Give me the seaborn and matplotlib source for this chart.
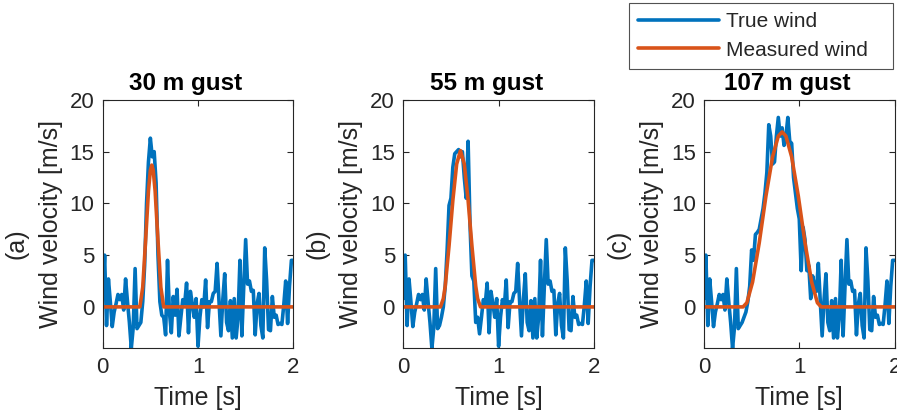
import numpy as np
import pandas as pd
import seaborn as sns
import matplotlib.pyplot as plt
from matplotlib.lines import Line2D

# time grid of the true wind signal (s)
time = np.round(np.arange(0, 2.001, 0.02), 2)

# true wind, 30 m gust panel (m/s)
true_30 = [
    0.8, 5.0, -1.8, 2.7, 0.5, -1.9, -0.5, 0.3, 1.2, 0.7,
    1.2, -0.3, 2.7, 0.5, -1.5, -4.0, -2.0, 3.7, -2.1, -1.8,
    -1.5, 0.5, 4.0, 10.0, 14.0, 16.3, 14.5, 15.0, 12.0, 5.0,
    0.5, -0.8, -1.0, -2.7, 4.5, -0.5, -2.5, 1.0, -0.8, 1.7,
    -2.8, -1.0, 0.7, 0.3, 2.3, -2.5, 1.5, 0.3, -1.0, 0.8,
    -3.8, -1.0, 0.7, 0.0, 2.6, -2.0, 0.5, 0.5, 1.3, 1.5,
    4.2, 0.6, -2.8, 0.7, 3.2, -1.5, -2.3, 0.6, -3.0, 0.8,
    -3.0, -1.0, 4.5, -2.8, 2.0, 6.5, 2.2, 2.5, 1.5, 1.6,
    -2.7, 0.3, 1.3, -1.8, -3.0, 5.7, 2.5, -2.2, -2.3, 1.0,
    -1.0, -0.8, -1.7, -1.6, -1.7, 0.2, 2.5, -1.6, 2.0, 4.5,
    4.5,
]

# the other panels share the same turbulence outside the gust window
gust_55 = [  # t = 0.38 .. 0.82
    -1.8, -1.0, 0.0, 2.0, 5.5, 9.8, 10.5, 13.5, 14.8, 15.0,
    15.2, 14.5, 15.0, 12.5, 10.5, 16.0, 8.0, 3.0, 2.5, -1.5,
    -1.0, -2.6, -1.0,
]
gust_107 = [  # t = 0.38 .. 1.18
    -1.8, -1.5, -1.0, -0.5, 0.5, 2.0, 5.5, 4.5, 7.0, 7.2,
    7.5, 8.5, 9.5, 11.0, 13.0, 17.6, 16.5, 13.8, 14.0, 16.5,
    18.3, 16.5, 17.3, 15.6, 16.5, 18.3, 16.0, 15.8, 12.5, 11.0,
    9.5, 8.5, 3.5, 7.7, 6.5, 3.5, 4.0, 0.8, 3.0, 2.0,
    1.5,
]
true_55 = true_30[:19] + gust_55 + true_30[19 + len(gust_55):]
true_107 = true_30[:19] + gust_107 + true_30[19 + len(gust_107):]

# measured wind (smooth gust), breakpoints
meas_t_30 = [0, 0.39, 0.42, 0.45, 0.48, 0.50, 0.515, 0.53, 0.55, 0.58, 0.61, 0.64, 2.0]
meas_30 = [0, 0, 1.9, 6.4, 11.2, 13.2, 13.7, 13.2, 11.2, 6.4, 1.9, 0, 0]
meas_t_55 = [0, 0.39, 0.42, 0.44, 0.48, 0.52, 0.56, 0.60, 0.64, 0.68, 0.72, 0.76, 0.78, 0.81, 2.0]
meas_55 = [0, 0, 0.8, 2.0, 5.9, 10.3, 13.8, 15.1, 13.8, 10.3, 5.9, 2.0, 0.8, 0, 0]
meas_t_107 = [0, 0.41, 0.45, 0.51, 0.58, 0.65, 0.72, 0.78, 0.82, 0.86, 0.92, 0.99, 1.06, 1.13, 1.19, 1.23, 2.0]
meas_107 = [0, 0, 0.4, 2.4, 6.2, 10.7, 14.5, 16.5, 16.9, 16.5, 14.5, 10.7, 6.2, 2.4, 0.4, 0, 0]

titles = ["30 m gust", "55 m gust", "107 m gust"]
tags = ["(a)", "(b)", "(c)"]
true_sets = [true_30, true_55, true_107]
meas_sets = [(meas_t_30, meas_30), (meas_t_55, meas_55), (meas_t_107, meas_107)]

blue = "#0072BD"
orange = "#D95319"
dark = "#262626"

sns.set_theme(style="ticks")
plt.rcParams['font.family'] = ['Liberation Sans', 'DejaVu Sans']

fig = plt.figure(figsize=(8.97, 4.12), dpi=100)
lefts = [0.1145, 0.4496, 0.7848]

for i in range(3):
    ax = fig.add_axes([lefts[i], 0.1546, 0.2125, 0.603])
    df_true = pd.DataFrame({"t": time, "v": true_sets[i]})
    df_meas = pd.DataFrame({"t": meas_sets[i][0], "v": meas_sets[i][1]})
    sns.lineplot(data=df_true, x="t", y="v", ax=ax, color=blue, linewidth=2.6)
    sns.lineplot(data=df_meas, x="t", y="v", ax=ax, color=orange, linewidth=2.6)

    ax.set_xlim(0, 2)
    ax.set_ylim(-4, 20)
    ax.set_xticks([0, 1, 2])
    ax.set_yticks([0, 5, 10, 15, 20])
    ax.tick_params(direction='in', top=True, right=True, length=4, width=0.8,
                   labelsize=16, colors=dark, pad=6)
    for s in ax.spines.values():
        s.set_color(dark)
        s.set_linewidth(0.8)
    # titles sit a little left of the axes centre in the original
    ax.set_title(titles[i], fontsize=17.5, fontweight='bold', pad=7,
                 color='black', x=0.435)
    ax.set_xlabel("Time [s]", fontsize=18, color=dark, labelpad=6)
    ax.set_ylabel("Wind velocity [m/s]", fontsize=18, color=dark)
    ax.yaxis.set_label_coords(-0.21, 0.5)
    ax.text(-0.45, 0.42, tags[i], rotation=90, fontsize=18, color=dark,
            transform=ax.transAxes, ha='center', va='center')

handles = [Line2D([], [], color=blue, linewidth=2.6),
           Line2D([], [], color=orange, linewidth=2.6)]
leg = fig.legend(handles, ["True wind", "Measured wind"], loc='upper left',
                 bbox_to_anchor=(629 / 897, 1 - 68 / 412, 264 / 897, 65 / 412),
                 mode='expand', fontsize=15,
                 frameon=True, fancybox=False, handlelength=3.85,
                 handletextpad=0.35, borderaxespad=0, borderpad=0.45,
                 labelspacing=0.45)
leg.get_frame().set_edgecolor(dark)
leg.get_frame().set_linewidth(0.8)

fig.savefig("out.png", dpi=100)
